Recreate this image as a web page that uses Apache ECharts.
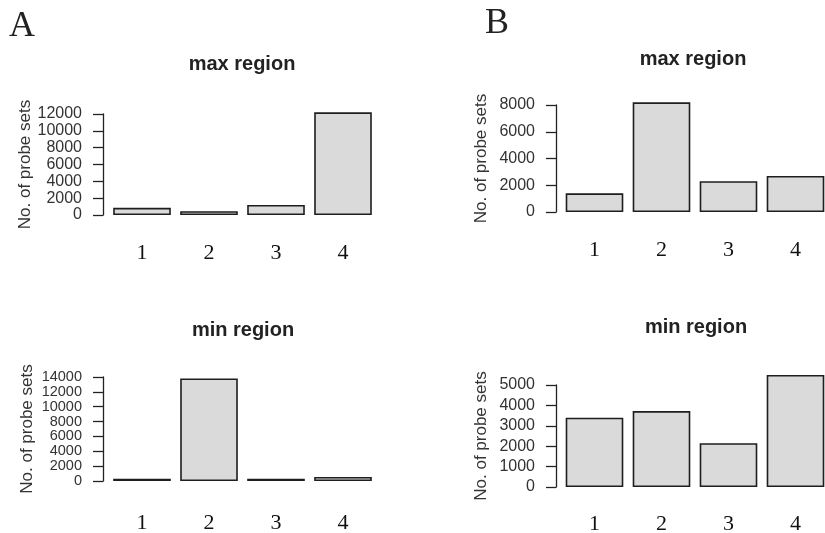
<!DOCTYPE html>
<html>
<head>
<meta charset="utf-8">
<script src="https://cdn.jsdelivr.net/npm/echarts@6/dist/echarts.min.js"></script>
<style>
  html, body { margin: 0; padding: 0; background: #fff; }
  #chart { width: 825px; height: 533px; }
</style>
</head>
<body>
<div id="chart"></div>
<script>
// data
var categories = ["1", "2", "3", "4"];
var maxRegionA = [850, 450, 1200, 12200];
var minRegionA = [300, 13800, 300, 550];
var maxRegionB = [1400, 8200, 2300, 2700];
var minRegionB = [3400, 3720, 2150, 5490];
var ticksMaxA = [0, 2000, 4000, 6000, 8000, 10000, 12000];
var ticksMinA = [0, 2000, 4000, 6000, 8000, 10000, 12000, 14000];
var ticksMaxB = [0, 2000, 4000, 6000, 8000];
var ticksMinB = [0, 1000, 2000, 3000, 4000, 5000];

var myChart = echarts.init(document.getElementById("chart"));

var sans = "Liberation Sans";
var serif = "Liberation Serif";

var grids = [
  { left: 108.5, top: 114, width: 268, height: 101, outerBoundsMode: "none" },
  { left: 561, top: 105, width: 268, height: 107, outerBoundsMode: "none" },
  { left: 108.5, top: 377, width: 268, height: 104, outerBoundsMode: "none" },
  { left: 561, top: 385, width: 268, height: 102, outerBoundsMode: "none" }
];
var tickSets = [ticksMaxA, ticksMaxB, ticksMinA, ticksMinB];
var offsets = [5.5, 5, 5.5, 5];
var labelMargins = [27, 27, 31, 26];
var labelSizes = [16, 16, 14.5, 16];
var nameGaps = [64, 66, 67, 66];
var seriesData = [maxRegionA, maxRegionB, minRegionA, minRegionB];

var xAxes = [];
var yAxes = [];
var series = [];
for (var i = 0; i < 4; i++) {
  var ticks = tickSets[i];
  xAxes.push({
    type: "category",
    gridIndex: i,
    data: categories,
    axisLine: { show: false },
    axisTick: { show: false },
    axisLabel: {
      margin: labelMargins[i],
      color: "#111",
      fontFamily: serif,
      fontSize: 22
    }
  });
  yAxes.push({
    type: "value",
    gridIndex: i,
    min: 0,
    max: ticks[ticks.length - 1],
    interval: ticks[1],
    offset: offsets[i],
    name: "No. of probe sets",
    nameLocation: "middle",
    nameRotate: 90,
    nameGap: nameGaps[i],
    nameTextStyle: { color: "#333", fontFamily: sans, fontSize: 17 },
    axisLine: { show: true, lineStyle: { color: "#222", width: 1.3 } },
    axisTick: { show: true, length: 10, lineStyle: { color: "#222", width: 1.3 } },
    axisLabel: {
      margin: 21,
      color: "#333",
      fontFamily: sans,
      fontSize: labelSizes[i],
      lineHeight: 12,
      showMinLabel: true,
      showMaxLabel: true,
      formatter: function (v) { return String(v); }
    },
    splitLine: { show: false }
  });
  series.push({
    type: "bar",
    xAxisIndex: i,
    yAxisIndex: i,
    data: seriesData[i],
    clip: false,
    barCategoryGap: "14%",
    itemStyle: {
      color: "#dadada",
      borderColor: "#1e1e1e",
      borderWidth: 1.6
    }
  });
}

var titleStyle = { color: "#222", fontFamily: sans, fontSize: 20, fontWeight: "bold" };
var letterStyle = { color: "#222", fontFamily: serif, fontSize: 36, fontWeight: "normal" };

myChart.setOption({
  backgroundColor: "#fff",
  animation: false,
  title: [
    { text: "A", left: 9, top: 9, padding: 0, textStyle: letterStyle },
    { text: "B", left: 485, top: 6, padding: 0, textStyle: letterStyle },
    { text: "max region", left: 242, top: 54, padding: 0, textAlign: "center", textStyle: titleStyle },
    { text: "max region", left: 693, top: 49, padding: 0, textAlign: "center", textStyle: titleStyle },
    { text: "min region", left: 243, top: 320, padding: 0, textAlign: "center", textStyle: titleStyle },
    { text: "min region", left: 696, top: 317, padding: 0, textAlign: "center", textStyle: titleStyle }
  ],
  grid: grids,
  xAxis: xAxes,
  yAxis: yAxes,
  series: series
});
</script>
</body>
</html>
